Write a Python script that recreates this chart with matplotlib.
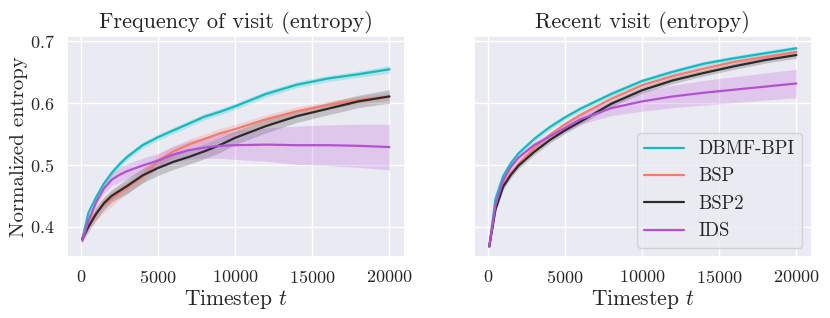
import numpy as np
import matplotlib
matplotlib.use("Agg")
import matplotlib.pyplot as plt
import seaborn as sns

t_freq = [100, 500, 1000, 1500, 2000, 2500, 3000, 4000, 5000, 6000, 7000,
          8000, 9000, 10000, 12000, 14000, 16000, 18000, 20000]
t_recent = [100, 500, 1000, 1500, 2000, 3000, 4000, 5000, 6000, 8000,
            10000, 12000, 14000, 16000, 18000, 20000]

methods = ["DBMF-BPI", "BSP", "BSP2", "IDS"]
colors = ["#0fbcc0", "#f77b6c", "#2b2b2b", "#b54fd6"]

# Frequency of visit (entropy): mean and half-width of the shaded band
freq_mean = {
    "DBMF-BPI": [0.380, 0.423, 0.448, 0.470, 0.487, 0.501, 0.513, 0.532, 0.545, 0.556, 0.567,
                 0.578, 0.586, 0.595, 0.615, 0.630, 0.640, 0.647, 0.655],
    "BSP": [0.380, 0.408, 0.423, 0.435, 0.445, 0.455, 0.463, 0.481, 0.507, 0.522, 0.533,
            0.542, 0.551, 0.558, 0.574, 0.587, 0.597, 0.605, 0.611],
    "BSP2": [0.380, 0.400, 0.421, 0.438, 0.450, 0.458, 0.466, 0.483, 0.495, 0.505, 0.513,
             0.522, 0.532, 0.544, 0.563, 0.579, 0.591, 0.603, 0.611],
    "IDS": [0.377, 0.410, 0.440, 0.462, 0.476, 0.484, 0.490, 0.499, 0.507, 0.517, 0.524,
            0.528, 0.531, 0.532, 0.533, 0.532, 0.532, 0.531, 0.529],
}
freq_spread = {
    "DBMF-BPI": [0.003, 0.004, 0.005, 0.005, 0.005, 0.005, 0.005, 0.005, 0.005, 0.005, 0.005,
                 0.005, 0.005, 0.005, 0.005, 0.005, 0.005, 0.005, 0.006],
    "BSP": [0.004, 0.010, 0.012, 0.012, 0.012, 0.011, 0.010, 0.010, 0.010, 0.009, 0.009,
            0.008, 0.008, 0.008, 0.007, 0.007, 0.006, 0.006, 0.006],
    "BSP2": [0.004, 0.008, 0.010, 0.010, 0.010, 0.011, 0.012, 0.012, 0.012, 0.012, 0.012,
             0.012, 0.012, 0.011, 0.011, 0.010, 0.010, 0.010, 0.011],
    "IDS": [0.003, 0.005, 0.006, 0.008, 0.010, 0.012, 0.012, 0.012, 0.012, 0.013, 0.015,
            0.017, 0.020, 0.023, 0.027, 0.031, 0.033, 0.035, 0.037],
}

# Recent visit (entropy)
recent_mean = {
    "DBMF-BPI": [0.368, 0.445, 0.482, 0.503, 0.519, 0.542, 0.561, 0.577, 0.591, 0.615,
                 0.636, 0.651, 0.664, 0.673, 0.681, 0.689],
    "BSP": [0.368, 0.432, 0.468, 0.487, 0.502, 0.527, 0.548, 0.566, 0.581, 0.607,
            0.629, 0.644, 0.656, 0.667, 0.675, 0.683],
    "BSP2": [0.368, 0.428, 0.465, 0.484, 0.499, 0.521, 0.540, 0.556, 0.570, 0.599,
             0.621, 0.637, 0.649, 0.660, 0.670, 0.678],
    "IDS": [0.368, 0.435, 0.475, 0.497, 0.512, 0.532, 0.546, 0.560, 0.574, 0.592,
            0.603, 0.611, 0.617, 0.622, 0.627, 0.632],
}
recent_spread = {
    "DBMF-BPI": [0.002, 0.004, 0.004, 0.004, 0.004, 0.004, 0.004, 0.004, 0.004, 0.004,
                 0.004, 0.004, 0.004, 0.004, 0.004, 0.004],
    "BSP": [0.002, 0.004, 0.004, 0.004, 0.004, 0.004, 0.004, 0.004, 0.004, 0.004,
            0.004, 0.004, 0.004, 0.004, 0.004, 0.004],
    "BSP2": [0.002, 0.005, 0.005, 0.005, 0.005, 0.005, 0.005, 0.005, 0.005, 0.005,
             0.005, 0.005, 0.005, 0.005, 0.005, 0.005],
    "IDS": [0.002, 0.004, 0.004, 0.005, 0.005, 0.005, 0.006, 0.007, 0.008, 0.012,
            0.016, 0.018, 0.020, 0.021, 0.022, 0.023],
}

titles = ["Frequency of visit (entropy)", "Recent visit (entropy)"]

sns.set_theme(style="darkgrid")
plt.rcParams["font.family"] = ["cmr10"]
plt.rcParams["mathtext.fontset"] = "cm"
plt.rcParams["axes.formatter.use_mathtext"] = True

fig = plt.figure(figsize=(8.3, 3.18), dpi=100)
ax1 = fig.add_axes([0.0807, 0.192, 0.407, 0.695])
ax2 = fig.add_axes([0.571, 0.192, 0.407, 0.695], sharey=ax1)

panels = [(ax1, t_freq, freq_mean, freq_spread), (ax2, t_recent, recent_mean, recent_spread)]
for (ax, t, means, spreads), title in zip(panels, titles):
    t = np.array(t)
    for name, col in zip(methods, colors):
        m = np.array(means[name])
        s = np.array(spreads[name])
        ax.plot(t, m, color=col, lw=1.6, label=name)
        ax.fill_between(t, m - s, m + s, color=col, alpha=0.22, lw=0)
    ax.set_title(title, fontsize=16)
    ax.set_xlabel("Timestep $t$", fontsize=15.5, labelpad=1)
    ax.tick_params(labelsize=13, pad=3)
    ax.set_xticks([0, 5000, 10000, 15000, 20000])

ax1.set_ylim(0.351, 0.709)
ax1.set_yticks([0.4, 0.5, 0.6, 0.7])
ax1.set_ylabel("Normalized entropy", fontsize=15, labelpad=1)
plt.setp(ax2.get_yticklabels(), visible=False)

ax2.legend(loc="lower right", fontsize=13.5, handlelength=2.1)

fig.savefig("out.png", dpi=100)
